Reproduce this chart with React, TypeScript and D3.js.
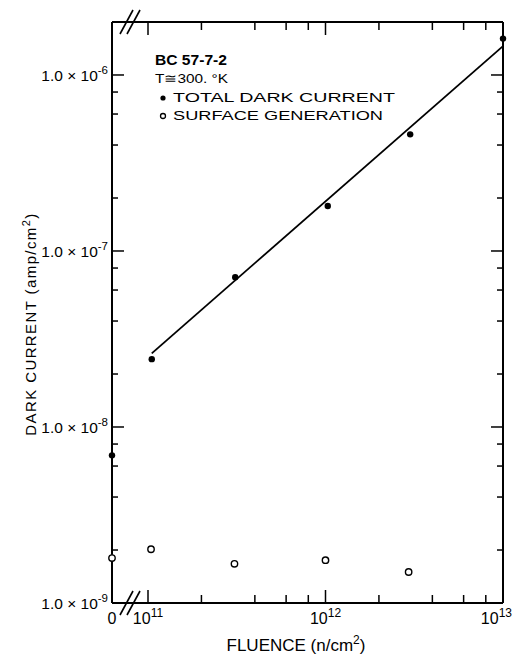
import React from "react";
import * as d3 from "d3";

// ---- data ----
const totalFluence = [0, 1.05e11, 3.1e11, 1.03e12, 3.0e12, 1.0e13];
const totalCurrent = [6.9e-9, 2.43e-8, 7.1e-8, 1.8e-7, 4.6e-7, 1.61e-6];

const surfaceFluence = [0, 1.04e11, 3.07e11, 1.0e12, 2.94e12];
const surfaceCurrent = [1.8e-9, 2.02e-9, 1.67e-9, 1.75e-9, 1.5e-9];

const fitFluence = [1.05e11, 1.0e13];
const fitCurrent = [2.62e-8, 1.46e-6];

const yMajorTicks = [1e-9, 1e-8, 1e-7, 1e-6];
const yTickExponents = ["-9", "-8", "-7", "-6"];
const xMajorTicks = [1e11, 1e12, 1e13];
const xTickExponents = ["11", "12", "13"];
const minorMantissas = [2, 4, 6, 8];

const legendTitle = "BC 57-7-2";
const legendTemp = "T≅300. °K";
const legendTotal = "TOTAL DARK CURRENT";
const legendSurface = "SURFACE GENERATION";

// ---- layout ----
const W = 513;
const H = 656;
const L = 112;
const R = 503;
const T = 22;
const B = 603;
const FONT = "'Liberation Sans', Arial, Helvetica, sans-serif";

export default function App() {
  const y = d3.scaleLog().domain([1e-9, 2e-6]).range([B, T]);
  const xLog = d3.scaleLog().domain([1e11, 1e13]).range([148, R]);
  const x = (f: number) => (f === 0 ? L : xLog(f));

  const yMinor: number[] = [];
  yMajorTicks.forEach((d) =>
    minorMantissas.forEach((m) => {
      const v = d * m;
      if (v < y.domain()[1]) yMinor.push(v);
    })
  );
  const xMinor: number[] = [];
  xMajorTicks.slice(0, -1).forEach((d) =>
    minorMantissas.forEach((m) => xMinor.push(d * m))
  );

  const line = d3
    .line<number>()
    .x((_, i) => x(fitFluence[i]))
    .y((d) => y(d));

  const xb = (x(0) + xLog(1e11)) / 2;
  const breakMarks = (cy: number) =>
    [-3.5, 3.5].map((d, i) => (
      <line
        key={i}
        x1={xb + d - 6.5}
        y1={cy + 12}
        x2={xb + d + 6.5}
        y2={cy - 12}
        stroke="#000"
        strokeWidth={1.6}
      />
    ));

  const majLenY = 12,
    minLenY = 6,
    majLenX = 13,
    minLenX = 8;

  return (
    <svg
      width={W}
      height={H}
      style={{ position: "absolute", left: 0, top: 0, background: "#fff" }}
      fontFamily={FONT}
    >
      <rect width={W} height={H} fill="#fff" />
      {/* frame */}
      <g stroke="#000" strokeWidth={2} fill="none">
        <line x1={L} y1={T} x2={R} y2={T} />
        <line x1={L} y1={B} x2={R} y2={B} />
        <line x1={L} y1={T} x2={L} y2={B} />
        <line x1={R} y1={T} x2={R} y2={B} />
      </g>
      {/* ticks */}
      <g stroke="#000" strokeWidth={1.5}>
        {yMajorTicks.map((v, i) => (
          <g key={"ym" + i}>
            <line x1={L} x2={L + majLenY} y1={y(v)} y2={y(v)} />
            <line x1={R} x2={R - majLenY} y1={y(v)} y2={y(v)} />
          </g>
        ))}
        {yMinor.map((v, i) => (
          <g key={"yn" + i}>
            <line x1={L} x2={L + minLenY} y1={y(v)} y2={y(v)} />
            <line x1={R} x2={R - minLenY} y1={y(v)} y2={y(v)} />
          </g>
        ))}
        {xMajorTicks.map((v, i) => (
          <g key={"xm" + i}>
            <line x1={xLog(v)} x2={xLog(v)} y1={B} y2={B - majLenX} />
            <line x1={xLog(v)} x2={xLog(v)} y1={T} y2={T + majLenX} />
          </g>
        ))}
        {xMinor.map((v, i) => (
          <g key={"xn" + i}>
            <line x1={xLog(v)} x2={xLog(v)} y1={B} y2={B - minLenX} />
            <line x1={xLog(v)} x2={xLog(v)} y1={T} y2={T + minLenX} />
          </g>
        ))}
      </g>
      {/* axis breaks */}
      {breakMarks(B)}
      {breakMarks(T)}

      {/* y tick labels */}
      {yMajorTicks.map((v, i) => (
        <text
          key={"yl" + i}
          x={108}
          y={y(v) + 6}
          textAnchor="end"
          fontSize={15.5}
          fill="#000"
        >
          1.0 × 10
          <tspan fontSize={11.5} dy={-7}>
            {yTickExponents[i]}
          </tspan>
        </text>
      ))}
      {/* x tick labels */}
      <text x={x(0)} y={624} textAnchor="middle" fontSize={16} fill="#000">
        0
      </text>
      {xMajorTicks.map((v, i) => {
        const last = i === xMajorTicks.length - 1;
        return (
          <text
            key={"xl" + i}
            x={last ? W - 1 : xLog(v)}
            y={624}
            textAnchor={last ? "end" : "middle"}
            fontSize={16}
            fill="#000"
          >
            10
            <tspan fontSize={12} dy={-7}>
              {xTickExponents[i]}
            </tspan>
          </text>
        );
      })}

      {/* axis titles */}
      <text x={296} y={651} textAnchor="middle" fontSize={17} fill="#000">
        FLUENCE (n/cm
        <tspan fontSize={12} dy={-7}>
          2
        </tspan>
        <tspan dy={7}>)</tspan>
      </text>
      <text
        transform="translate(36,324) rotate(-90)"
        textAnchor="middle"
        fontSize={15}
        letterSpacing={1.4}
        fill="#000"
      >
        DARK CURRENT (amp/cm
        <tspan fontSize={11} dy={-6}>
          2
        </tspan>
        <tspan dy={6}>)</tspan>
      </text>

      {/* fit line */}
      <path
        d={line(fitCurrent) || ""}
        fill="none"
        stroke="#000"
        strokeWidth={1.8}
      />

      {/* data points */}
      {totalCurrent.map((v, i) => (
        <circle
          key={"t" + i}
          cx={x(totalFluence[i])}
          cy={y(v)}
          r={3.2}
          fill="#000"
        />
      ))}
      {surfaceCurrent.map((v, i) => (
        <circle
          key={"s" + i}
          cx={x(surfaceFluence[i])}
          cy={y(v)}
          r={3.2}
          fill="#fff"
          stroke="#000"
          strokeWidth={1.4}
        />
      ))}

      {/* legend */}
      <text
        x={155}
        y={65}
        fontSize={14}
        fontWeight="bold"
        textLength={72}
        lengthAdjust="spacingAndGlyphs"
        fill="#000"
      >
        {legendTitle}
      </text>
      <text
        x={155}
        y={83}
        fontSize={13}
        textLength={73}
        lengthAdjust="spacingAndGlyphs"
        fill="#000"
      >
        {legendTemp}
      </text>
      <circle cx={163} cy={98} r={2.6} fill="#000" />
      <text
        x={173}
        y={102}
        fontSize={13}
        textLength={222}
        lengthAdjust="spacingAndGlyphs"
        fill="#000"
      >
        {legendTotal}
      </text>
      <circle
        cx={163}
        cy={116}
        r={2.5}
        fill="#fff"
        stroke="#000"
        strokeWidth={1.3}
      />
      <text
        x={173}
        y={120}
        fontSize={13}
        textLength={210}
        lengthAdjust="spacingAndGlyphs"
        fill="#000"
      >
        {legendSurface}
      </text>
    </svg>
  );
}
